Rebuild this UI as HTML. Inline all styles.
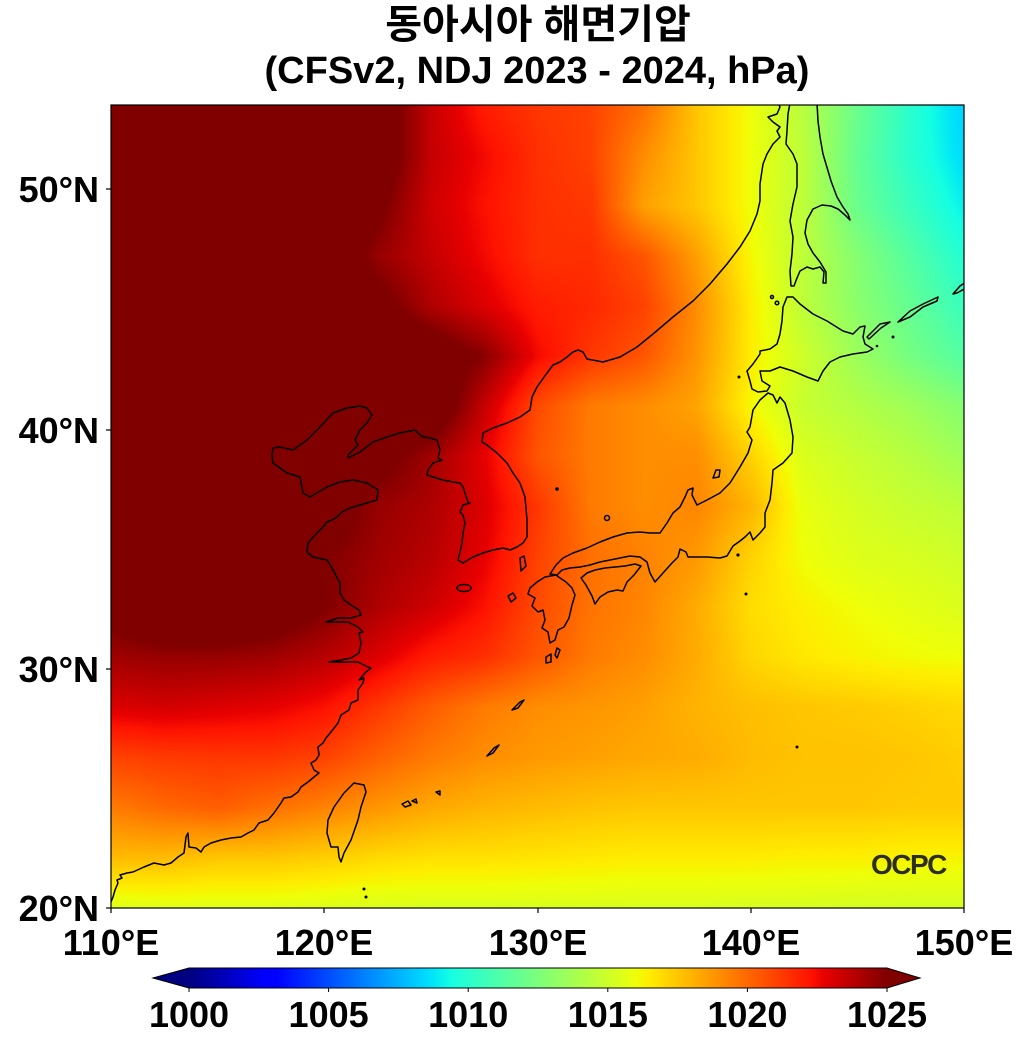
<!DOCTYPE html>
<html><head><meta charset="utf-8">
<style>
html,body{margin:0;padding:0;background:#fff;}
body{width:1025px;height:1048px;position:relative;overflow:hidden;}
#c{position:absolute;left:111px;top:105px;width:853px;height:803px;
background:linear-gradient(to bottom right,#800000 0%,#800000 35%,#ff2000 50%,#ff9000 62%,#ffd000 78%,#c0ff40 100%);}
svg{position:absolute;left:0;top:0;}
text{font-family:"Liberation Sans","Noto Sans CJK KR",sans-serif;font-weight:bold;fill:#000;}
</style></head>
<body>
<canvas id="c" width="853" height="803"></canvas>
<svg width="1025" height="1048" viewBox="0 0 1025 1048" xmlns="http://www.w3.org/2000/svg">
<defs>
<clipPath id="pc"><rect x="111" y="105" width="853" height="803"/></clipPath>
<linearGradient id="jet" gradientUnits="userSpaceOnUse" x1="189" y1="0" x2="887" y2="0">
<stop offset="0" stop-color="rgb(0,0,128)"/>
<stop offset="0.11" stop-color="rgb(0,0,255)"/>
<stop offset="0.125" stop-color="rgb(0,0,255)"/>
<stop offset="0.34" stop-color="rgb(0,219,255)"/>
<stop offset="0.35" stop-color="rgb(0,230,247)"/>
<stop offset="0.375" stop-color="rgb(21,255,226)"/>
<stop offset="0.64" stop-color="rgb(238,255,8)"/>
<stop offset="0.65" stop-color="rgb(247,245,0)"/>
<stop offset="0.66" stop-color="rgb(255,236,0)"/>
<stop offset="0.89" stop-color="rgb(255,19,0)"/>
<stop offset="0.91" stop-color="rgb(232,0,0)"/>
<stop offset="1" stop-color="rgb(128,0,0)"/>
</linearGradient>
</defs>

<!-- coastlines -->
<g clip-path="url(#pc)" fill="none" stroke="#000" stroke-width="1.5" stroke-linejoin="round">
<path d="M111,902 L113,897 L115,890 L118,883 L117,880 L122,878 L120,875 L127,873 L133,872 L144,867 L154,863 L164,865 L171,863 L178,857 L184,853 L186,837 L188,833 L189,847 L196,848 L201,852 L204,847 L211,843 L221,840 L231,838 L241,837 L248,833 L254,830 L259,823 L268,820 L274,813 L281,803 L284,798 L291,797 L298,792 L301,787 L308,782 L314,777 L319,773 L314,770 L311,763 L316,760 L319,755 L318,747 L323,743 L326,738 L331,732 L338,723 L341,715 L349,710 L351,703 L358,700 L358,690 L363,683 L364,678 L359,680 L366,672 L371,668 L368,667 L358,662 L344,662 L329,662 L341,660 L351,658 L359,653 L361,643 L359,633 L363,632 L358,627 L348,622 L338,622 L326,622 L338,618 L351,618 L361,615 L359,610 L351,605 L344,600 L340,593 L340,583 L333,570 L327,560 L313,557 L307,552 L308,543 L317,533 L323,527 L327,522 L332,520 L337,517 L342,512 L350,508 L360,505 L370,502 L377,500 L378,490 L367,483 L353,480 L340,482 L327,487 L310,497 L303,493 L300,477 L287,473 L273,463 L272,455 L273,448 L280,447 L293,450 L307,440 L320,427 L333,413 L347,408 L360,406 L367,408 L372,415 L367,423 L360,430 L355,440 L358,445 L348,455 L348,458 L360,452 L373,442 L387,437 L400,433 L415,430 L418,433 L423,437 L430,438 L437,440 L440,450 L438,458 L442,460 L433,463 L428,470 L427,475 L433,477 L443,480 L453,482 L460,483 L463,487 L465,493 L468,502 L470,503 L463,505 L460,512 L463,515 L465,523 L463,533 L462,543 L460,552 L458,560 L463,563 L473,557 L483,553 L493,550 L503,548 L510,550 L517,547 L523,543 L527,537 L527,520 L525,497 L520,483 L513,473 L507,463 L497,453 L487,445 L482,442 L483,433 L493,428 L507,423 L520,417 L530,410 L532,397 L537,387 L547,373 L553,365 L560,362 L567,357 L573,352 L578,350 L583,352 L587,359 L603,362 L620,357 L637,347 L653,334 L673,317 L693,301 L710,284 L727,264 L740,247 L750,231 L757,214 L760,201 L760,184 L763,164 L767,154 L773,144 L780,137 L777,131 L780,127 L773,122 L768,117 L777,114 L780,107 L778,103"/>
<!-- Sakhalin -->
<path d="M790,103 L788,114 L787,131 L786,144 L793,154 L797,164 L797,187 L793,204 L790,221 L793,237 L792,254 L790,271 L791,286 L794,286 L797,278 L800,271 L807,267 L813,269 L820,267 L824,272 L823,283 L826,283 L826,272 L820,262 L813,253 L808,244 L805,233 L807,220 L813,209 L822,205 L831,206 L838,209 L845,215 L850,220 L848,214 L843,207 L837,197 L831,181 L823,154 L820,137 L818,121 L817,103"/>
<!-- Hokkaido -->
<path d="M787,297 L793,297 L800,304 L813,314 L827,321 L843,331 L853,334 L860,327 L865,326 L863,337 L865,344 L873,349 L867,352 L853,354 L840,357 L830,362 L823,371 L818,381 L807,377 L793,371 L780,367 L770,371 L760,371 L762,381 L770,386 L767,391 L758,392 L752,389 L750,381 L747,371 L753,364 L760,354 L760,351 L770,349 L777,344 L780,334 L782,321 L783,307 Z"/>
<!-- Kurils -->
<path d="M867,337 L880,324 L890,322 L881,328 L869,339 Z"/>
<path d="M898,322 L910,311 L923,304 L938,297 L937,301 L923,307 L910,317 Z"/>
<path d="M953,294 L960,286 L966,282 L966,288 L957,293 Z"/>
<!-- Honshu -->
<path d="M760,400 L768,393 L773,395 L777,403 L780,397 L785,403 L790,420 L793,437 L792,453 L783,463 L773,470 L772,483 L770,500 L765,513 L765,527 L760,533 L753,540 L750,532 L745,537 L740,541 L733,546 L727,556 L720,558 L707,557 L697,557 L688,557 L686,552 L680,549 L678,557 L672,563 L663,573 L655,582 L650,573 L647,562 L640,557 L630,556 L620,558 L610,560 L600,562 L590,565 L580,567 L570,568 L562,570 L557,575 L550,574 L556,565 L563,558 L573,553 L587,548 L600,542 L613,537 L627,533 L640,532 L650,533 L660,533 L667,523 L673,513 L680,507 L685,497 L688,490 L693,488 L692,495 L697,505 L707,500 L720,493 L730,483 L740,467 L748,453 L752,440 L747,432 L750,427 L753,410 Z"/>
<!-- Shikoku -->
<path d="M581,578 L586,585 L592,596 L595,604 L600,597 L608,592 L617,590 L623,591 L627,582 L634,575 L641,566 L635,564 L625,566 L615,567 L605,568 L595,570 L587,573 Z"/>
<!-- Kyushu -->
<path d="M556,575 L545,577 L537,582 L530,588 L528,594 L535,598 L532,606 L538,612 L543,610 L545,620 L542,628 L548,632 L550,643 L555,640 L558,630 L564,627 L569,618 L572,605 L575,595 L572,588 L566,582 L560,578 Z"/>
<!-- Taiwan -->
<path d="M354,783 L364,785 L366,792 L361,807 L358,820 L351,840 L344,853 L341,862 L339,857 L338,847 L331,847 L327,833 L328,820 L334,807 L344,793 Z"/>
<!-- small islands -->
<path d="M713,478 L716,470 L720,470 L719,477 Z"/>
<ellipse cx="464" cy="588" rx="7" ry="3.5"/>
<path d="M520,558 L524,556 L526,566 L521,571 Z"/>
<path d="M508,596 L513,593 L516,598 L511,602 Z"/>
<path d="M546,657 L551,654 L551,662 L546,663 Z"/>
<path d="M557,648 L560,650 L557,658 L555,655 Z"/>
<path d="M512,710 L520,702 L524,700 L518,708 Z"/>
<path d="M487,756 L494,748 L499,745 L493,753 Z"/>
<path d="M402,804 L408,801 L411,805 L405,807 Z"/>
<path d="M412,801 L416,799 L417,803 Z"/>
<path d="M436,792 L440,791 L440,795 Z"/>
<circle cx="607" cy="518" r="2.5"/>
<circle cx="772" cy="297" r="1.5"/>
<circle cx="777" cy="303" r="1.8"/>
</g>
<g fill="#000">
<circle cx="557" cy="489" r="1.8"/>
<circle cx="738" cy="555" r="1.6"/>
<circle cx="746" cy="594" r="1.5"/>
<circle cx="739" cy="377" r="1.5"/>
<circle cx="797" cy="747" r="1.5"/>
<circle cx="364" cy="889" r="1.5"/>
<circle cx="366" cy="897" r="1.5"/>
<circle cx="877" cy="346" r="1.3"/>
<circle cx="893" cy="337" r="1.5"/>
</g>

<!-- frame -->
<rect x="111" y="105" width="853" height="803" fill="none" stroke="#000" stroke-width="1.2"/>

<!-- ticks -->
<g stroke="#000" stroke-width="1.2">
<line x1="106" y1="189" x2="111" y2="189"/>
<line x1="106" y1="430" x2="111" y2="430"/>
<line x1="106" y1="669" x2="111" y2="669"/>
<line x1="106" y1="908" x2="111" y2="908"/>
<line x1="111" y1="908" x2="111" y2="913"/>
<line x1="324" y1="908" x2="324" y2="913"/>
<line x1="538" y1="908" x2="538" y2="913"/>
<line x1="751" y1="908" x2="751" y2="913"/>
<line x1="964" y1="908" x2="964" y2="913"/>
</g>

<!-- logo -->
<text x="871" y="874" font-size="28" letter-spacing="-1.5" style="fill:#2d2d20">OCPC</text>

<!-- title -->
<text x="538" y="38" font-size="40" text-anchor="middle">동아시아 해면기압</text>
<text x="537" y="83" font-size="38" text-anchor="middle">(CFSv2, NDJ 2023 - 2024, hPa)</text>

<!-- y labels -->
<g font-size="36" text-anchor="end">
<text x="99" y="202">50°N</text>
<text x="99" y="443">40°N</text>
<text x="99" y="682">30°N</text>
<text x="99" y="921">20°N</text>
</g>
<!-- x labels -->
<g font-size="36" text-anchor="middle">
<text x="111" y="955">110°E</text>
<text x="324" y="955">120°E</text>
<text x="538" y="955">130°E</text>
<text x="751" y="955">140°E</text>
<text x="964" y="955">150°E</text>
</g>

<!-- colorbar -->
<polygon points="153,978 189,968 189,988" fill="#000080"/>
<polygon points="887,968 920,978 887,988" fill="#800000"/>
<rect x="189" y="968" width="698" height="20" fill="url(#jet)"/>
<path d="M153,978 L189,968 L887,968 L920,978 L887,988 L189,988 Z" fill="none" stroke="#000" stroke-width="1"/>
<g stroke="#000" stroke-width="1">
<line x1="189" y1="988" x2="189" y2="992"/>
<line x1="328.6" y1="988" x2="328.6" y2="992"/>
<line x1="468.2" y1="988" x2="468.2" y2="992"/>
<line x1="607.8" y1="988" x2="607.8" y2="992"/>
<line x1="747.4" y1="988" x2="747.4" y2="992"/>
<line x1="887" y1="988" x2="887" y2="992"/>
</g>
<g font-size="36" text-anchor="middle">
<text x="189" y="1027">1000</text>
<text x="328.6" y="1027">1005</text>
<text x="468.2" y="1027">1010</text>
<text x="607.8" y="1027">1015</text>
<text x="747.4" y="1027">1020</text>
<text x="887" y="1027">1025</text>
</g>
</svg>

<script>
(function(){
var G=[
[1026.5,1026.5,1026.5,1026.5,1026.5,1026,1023.5,1022,1021.3,1021,1019.8,1017.5,1016,1014.3,1012,1010,1008.3],
[1026.5,1026.5,1026.5,1026.5,1026.5,1026,1023.5,1022.5,1021.5,1021,1019,1017.5,1016,1014.5,1011.8,1010,1008.5],
[1026.5,1026.5,1026.5,1026.5,1026.5,1025.3,1023.3,1022.3,1021.5,1021.3,1018.5,1017.5,1016,1014.5,1012,1010.5,1009],
[1026.5,1026.5,1026.5,1026.5,1026.5,1024.5,1023.5,1022.5,1021.5,1021.5,1020.5,1018.5,1016.2,1014.5,1012.8,1011.3,1009.8],
[1026.5,1026.5,1026.5,1026.5,1026.5,1025.5,1024,1023,1022,1021.7,1021,1019,1016.5,1014.5,1013,1011.8,1010.5],
[1026.5,1026.5,1026.5,1026.5,1026.5,1026.5,1026,1024.8,1022.5,1021.3,1020.5,1018.8,1016.5,1015,1013.5,1012.3,1011.3],
[1026.5,1026.5,1026.5,1026.5,1026.5,1026.5,1026.3,1023.5,1020.8,1019.5,1019,1018.4,1016.2,1014.8,1014.2,1013.6,1012.8],
[1026.5,1026.5,1026.5,1026.5,1026.5,1025.5,1024.3,1022.8,1020.5,1019.5,1019,1019,1017.2,1015.4,1014.8,1014.3,1013.6],
[1026.5,1026.5,1026.5,1026.5,1025.8,1024.5,1024,1023,1021.3,1019.5,1019,1019.2,1018,1015.8,1015.2,1014.8,1014.5],
[1026.5,1026.5,1026.5,1026.5,1025,1024.3,1023.8,1022.8,1021,1019.8,1019.3,1018.7,1017.2,1016,1015.5,1015.3,1015],
[1025.5,1026.5,1026.5,1026,1025,1024,1023.3,1022.3,1020.8,1019.7,1019.2,1018.2,1016.9,1016.4,1016,1015.7,1015.4],
[1024.3,1024.5,1024.5,1024.3,1023.8,1023,1022,1021.5,1020.5,1019.5,1019,1018.2,1017.1,1016.6,1016.3,1016.1,1016],
[1023,1023.2,1023,1022.8,1022.3,1021.3,1020.3,1019.5,1019,1018.8,1018.5,1018,1017.7,1017.5,1017.4,1017.2,1017],
[1021,1021.2,1021.3,1021.3,1021,1020.2,1019.5,1019,1018.7,1018.5,1018.3,1018.2,1017.8,1017.6,1017.6,1017.5,1017.3],
[1019.5,1020,1020.3,1019.8,1019.3,1018.8,1018.3,1018,1017.8,1017.6,1017.5,1017.5,1017.5,1017.5,1017.5,1017.4,1017.4],
[1017.8,1017.8,1017.5,1017.5,1017.3,1017,1016.8,1016.8,1016.7,1016.6,1016.5,1016.5,1016.5,1016.4,1016.4,1016.3,1016.3],
[1015.5,1015.6,1015.6,1015.6,1015.5,1015.4,1015.4,1015.4,1015.4,1015.4,1015.4,1015.4,1015.3,1015.3,1015.2,1015.2,1015.2]
];
var cv=document.getElementById('c');if(!cv.getContext)return;
var ctx=cv.getContext('2d'),W=853,H=803,im=ctx.createImageData(W,H),d=im.data,N=16;
function jet(t){var r,g,b;
 if(t<0.35)r=0;else if(t<0.66)r=(t-0.35)/0.31;else if(t<0.89)r=1;else r=1-0.5*(t-0.89)/0.11;
 if(t<0.125)g=0;else if(t<0.375)g=(t-0.125)/0.25;else if(t<0.64)g=1;else if(t<0.91)g=1-(t-0.64)/0.27;else g=0;
 if(t<0.11)b=0.5+0.5*t/0.11;else if(t<0.34)b=1;else if(t<0.65)b=1-(t-0.34)/0.31;else b=0;
 return [r*255,g*255,b*255];}
for(var y=0;y<H;y++){var gy=y/(H-1)*N,j=Math.min(N-1,Math.floor(gy)),fy=gy-j;
 for(var x=0;x<W;x++){var gx=x/(W-1)*N,i=Math.min(N-1,Math.floor(gx)),fx=gx-i;
  var v=(G[j][i]*(1-fx)+G[j][i+1]*fx)*(1-fy)+(G[j+1][i]*(1-fx)+G[j+1][i+1]*fx)*fy;
  var t=(v-1000)/25;if(t>1)t=1;if(t<0)t=0;
  var c=jet(t),k=(y*W+x)*4;d[k]=c[0];d[k+1]=c[1];d[k+2]=c[2];d[k+3]=255;}}
ctx.putImageData(im,0,0);
})();
</script>
</body></html>
